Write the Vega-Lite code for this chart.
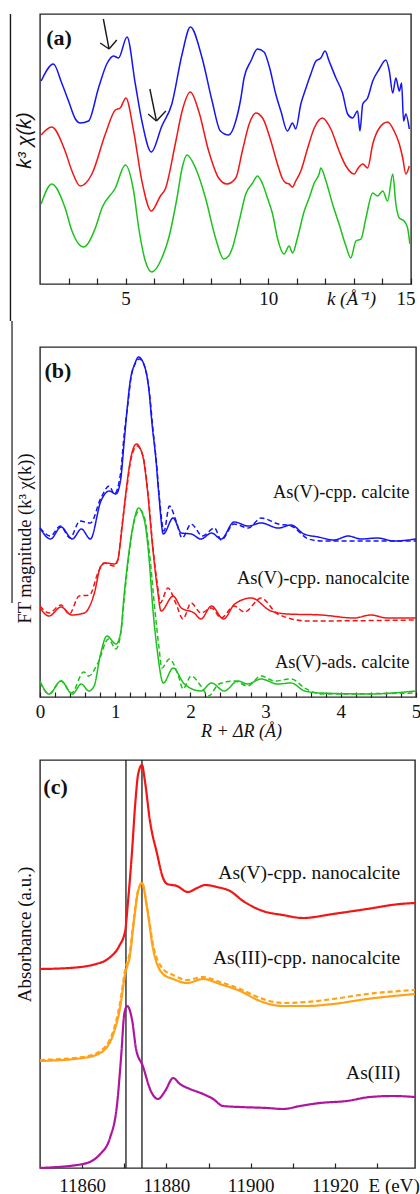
{
  "$schema": "https://vega.github.io/schema/vega-lite/v6.json",
  "background": "white",
  "padding": {"left": 9, "top": 12, "right": 0, "bottom": 0},
  "spacing": 63,
  "bounds": "flush",
  "resolve": {"scale": {"color": "independent", "strokeDash": "independent", "x": "independent", "y": "independent"}},
  "config": {
    "view": {"stroke": "#262626", "strokeWidth": 1.4},
    "axis": {"grid": false, "labelFont": "Liberation Serif", "titleFont": "Liberation Serif", "labelColor": "#111", "titleColor": "#111", "tickColor": "#222", "tickWidth": 1.2, "domain": false, "labelOverlap": false, "titleFontWeight": "normal", "labelFontSize": 19, "titleFontSize": 19}
  },
  "vconcat": [
    {
      "width": 371,
      "height": 270,
      "encoding": {
        "x": {"field": "x", "type": "quantitative", "scale": {"domain": [2, 15], "nice": false, "zero": false},
          "axis": {"values": [3,4,5,6,7,8,9,10,11,12,13,14,15], "format": "d", "labelExpr": "datum.value % 5 === 0 ? datum.label : ''", "labelOverlap": false, "labelFlushOffset": 4, "tickSize": -6, "labelPadding": 26, "labelBaseline": "alphabetic", "title": "k (Å⁻¹)", "titleFontStyle": "italic", "titleX": 311, "titleY": 20, "titleBaseline": "alphabetic", "titleAlign": "center"}},
        "y": {"field": "y", "type": "quantitative", "scale": {"domain": [0, 270], "nice": false, "zero": false},
          "axis": {"title": "k³ χ(k)", "labels": false, "ticks": false, "titleFont": "Liberation Sans", "titleFontStyle": "italic", "titleFontSize": 20, "titleX": -10, "titleY": 126, "titleBaseline": "alphabetic", "titleAngle": 270, "titleAlign": "center"}}
      },
      "layer": [
        {
          "data": {"values": [
            {"s":"b","x":2.04,"y":203},{"s":"b","x":2.47,"y":220},{"s":"b","x":2.76,"y":201},{"s":"b","x":3.0,"y":183},{"s":"b","x":3.24,"y":165},{"s":"b","x":3.41,"y":161},{"s":"b","x":3.7,"y":163},{"s":"b","x":4.05,"y":196},{"s":"b","x":4.34,"y":220},{"s":"b","x":4.58,"y":228},{"s":"b","x":4.75,"y":226},{"s":"b","x":5.05,"y":247},{"s":"b","x":5.34,"y":200},{"s":"b","x":5.57,"y":163},{"s":"b","x":5.9,"y":132},{"s":"b","x":6.27,"y":158},{"s":"b","x":6.62,"y":180},{"s":"b","x":6.98,"y":230},{"s":"b","x":7.27,"y":257},{"s":"b","x":7.68,"y":226},{"s":"b","x":8.03,"y":183},{"s":"b","x":8.32,"y":153},{"s":"b","x":8.61,"y":149},{"s":"b","x":8.86,"y":163},{"s":"b","x":9.04,"y":186},{"s":"b","x":9.15,"y":206},{"s":"b","x":9.39,"y":223},{"s":"b","x":9.62,"y":235},{"s":"b","x":9.85,"y":232},{"s":"b","x":10.03,"y":218},{"s":"b","x":10.26,"y":190},{"s":"b","x":10.44,"y":173},{"s":"b","x":10.67,"y":153},{"s":"b","x":10.85,"y":161},{"s":"b","x":10.96,"y":155},{"s":"b","x":11.14,"y":180},{"s":"b","x":11.32,"y":196},{"s":"b","x":11.49,"y":210},{"s":"b","x":11.67,"y":223},{"s":"b","x":11.84,"y":226},{"s":"b","x":11.99,"y":233},{"s":"b","x":12.13,"y":223},{"s":"b","x":12.37,"y":206},{"s":"b","x":12.6,"y":191},{"s":"b","x":12.78,"y":170},{"s":"b","x":12.95,"y":166},{"s":"b","x":13.13,"y":173},{"s":"b","x":13.21,"y":153},{"s":"b","x":13.31,"y":180},{"s":"b","x":13.48,"y":186},{"s":"b","x":13.66,"y":203},{"s":"b","x":13.89,"y":215},{"s":"b","x":14.12,"y":224},{"s":"b","x":14.24,"y":213},{"s":"b","x":14.36,"y":191},{"s":"b","x":14.47,"y":206},{"s":"b","x":14.59,"y":193},{"s":"b","x":14.67,"y":201},{"s":"b","x":14.74,"y":163},{"s":"b","x":14.82,"y":170},{"s":"b","x":14.94,"y":155},
            {"s":"r","x":2.04,"y":149},{"s":"r","x":2.41,"y":157},{"s":"r","x":2.88,"y":133},{"s":"r","x":3.12,"y":113},{"s":"r","x":3.41,"y":98},{"s":"r","x":3.82,"y":110},{"s":"r","x":4.29,"y":150},{"s":"r","x":4.64,"y":174},{"s":"r","x":4.81,"y":176},{"s":"r","x":5.01,"y":186},{"s":"r","x":5.28,"y":153},{"s":"r","x":5.57,"y":103},{"s":"r","x":5.9,"y":73},{"s":"r","x":6.22,"y":88},{"s":"r","x":6.39,"y":95},{"s":"r","x":6.74,"y":140},{"s":"r","x":6.98,"y":173},{"s":"r","x":7.27,"y":192},{"s":"r","x":7.56,"y":173},{"s":"r","x":7.91,"y":133},{"s":"r","x":8.26,"y":106},{"s":"r","x":8.55,"y":100},{"s":"r","x":8.86,"y":106},{"s":"r","x":9.09,"y":133},{"s":"r","x":9.33,"y":160},{"s":"r","x":9.56,"y":171},{"s":"r","x":9.8,"y":166},{"s":"r","x":10.09,"y":143},{"s":"r","x":10.32,"y":120},{"s":"r","x":10.5,"y":105},{"s":"r","x":10.62,"y":101},{"s":"r","x":10.73,"y":100},{"s":"r","x":10.85,"y":97},{"s":"r","x":10.96,"y":103},{"s":"r","x":11.14,"y":113},{"s":"r","x":11.38,"y":136},{"s":"r","x":11.61,"y":156},{"s":"r","x":11.9,"y":166},{"s":"r","x":12.19,"y":155},{"s":"r","x":12.48,"y":133},{"s":"r","x":12.72,"y":118},{"s":"r","x":13.01,"y":110},{"s":"r","x":13.15,"y":116},{"s":"r","x":13.31,"y":120},{"s":"r","x":13.48,"y":116},{"s":"r","x":13.66,"y":140},{"s":"r","x":13.89,"y":156},{"s":"r","x":14.18,"y":162},{"s":"r","x":14.41,"y":153},{"s":"r","x":14.59,"y":140},{"s":"r","x":14.71,"y":126},{"s":"r","x":14.82,"y":110},{"s":"r","x":14.94,"y":118},
            {"s":"g","x":2.04,"y":80},{"s":"g","x":2.41,"y":100},{"s":"g","x":2.88,"y":76},{"s":"g","x":3.12,"y":53},{"s":"g","x":3.53,"y":37},{"s":"g","x":3.94,"y":56},{"s":"g","x":4.17,"y":76},{"s":"g","x":4.64,"y":96},{"s":"g","x":4.99,"y":119},{"s":"g","x":5.28,"y":93},{"s":"g","x":5.46,"y":56},{"s":"g","x":5.69,"y":23},{"s":"g","x":5.92,"y":12},{"s":"g","x":6.27,"y":26},{"s":"g","x":6.51,"y":46},{"s":"g","x":6.8,"y":86},{"s":"g","x":6.98,"y":116},{"s":"g","x":7.15,"y":129},{"s":"g","x":7.45,"y":116},{"s":"g","x":7.8,"y":86},{"s":"g","x":8.15,"y":46},{"s":"g","x":8.44,"y":25},{"s":"g","x":8.61,"y":28},{"s":"g","x":8.74,"y":36},{"s":"g","x":8.98,"y":63},{"s":"g","x":9.21,"y":90},{"s":"g","x":9.45,"y":101},{"s":"g","x":9.62,"y":108},{"s":"g","x":9.8,"y":100},{"s":"g","x":9.97,"y":86},{"s":"g","x":10.15,"y":70},{"s":"g","x":10.32,"y":46},{"s":"g","x":10.55,"y":30},{"s":"g","x":10.73,"y":38},{"s":"g","x":10.85,"y":31},{"s":"g","x":11.02,"y":46},{"s":"g","x":11.26,"y":73},{"s":"g","x":11.43,"y":86},{"s":"g","x":11.61,"y":101},{"s":"g","x":11.78,"y":110},{"s":"g","x":11.84,"y":116},{"s":"g","x":12.02,"y":103},{"s":"g","x":12.25,"y":80},{"s":"g","x":12.48,"y":60},{"s":"g","x":12.72,"y":38},{"s":"g","x":12.89,"y":26},{"s":"g","x":13.07,"y":43},{"s":"g","x":13.25,"y":45},{"s":"g","x":13.42,"y":66},{"s":"g","x":13.66,"y":91},{"s":"g","x":13.83,"y":88},{"s":"g","x":14.01,"y":93},{"s":"g","x":14.18,"y":83},{"s":"g","x":14.36,"y":110},{"s":"g","x":14.47,"y":80},{"s":"g","x":14.59,"y":66},{"s":"g","x":14.76,"y":63},{"s":"g","x":14.88,"y":56},{"s":"g","x":14.96,"y":40}
          ]},
          "mark": {"type": "line", "interpolate": "monotone", "strokeWidth": 1.5},
          "encoding": {"color": {"field": "s", "type": "nominal", "scale": {"domain": ["b","r","g"], "range": ["#1414f5","#f51414","#1cc21c"]}, "legend": null}}
        },
        {
          "data": {"values": [
            {"x":4.22,"y":265,"x2":4.42,"y2":235},{"x":4.11,"y":241,"x2":4.42,"y2":235},{"x":4.69,"y":244,"x2":4.42,"y2":235},
            {"x":5.85,"y":195,"x2":6.08,"y2":163},{"x":5.79,"y":170,"x2":6.08,"y2":163},{"x":6.41,"y":173,"x2":6.08,"y2":163},
            {"x":0.965,"y":270,"x2":0.965,"y2":-37}
          ]},
          "mark": {"type": "rule", "color": "#1a1a1a", "strokeWidth": 1.4},
          "encoding": {"x2": {"field": "x2"}, "y2": {"field": "y2"}}
        },
        {
          "data": {"values": [{"x": 2.22, "y": 239, "t": "(a)"}]},
          "mark": {"type": "text", "align": "left", "baseline": "alphabetic", "font": "Liberation Serif", "fontSize": 22, "fontWeight": "bold", "color": "#111"},
          "encoding": {"text": {"field": "t"}}
        }
      ]
    },
    {
      "width": 376,
      "height": 350,
      "encoding": {
        "x": {"field": "x", "type": "quantitative", "scale": {"domain": [0, 5], "nice": false, "zero": false},
          "axis": {"values": [0,0.2,0.4,0.6,0.8,1,1.2,1.4,1.6,1.8,2,2.2,2.4,2.6,2.8,3,3.2,3.4,3.6,3.8,4,4.2,4.4,4.6,4.8,5], "labelExpr": "datum.value === 0 || datum.value === 1 || datum.value === 2 || datum.value === 3 || datum.value === 4 || datum.value === 5 ? '' + datum.value : ''", "labelOverlap": false, "labelFlush": false, "labelBound": false, "tickSize": -5, "labelPadding": 25, "labelBaseline": "alphabetic", "title": "R + ΔR (Å)", "titleFontStyle": "italic", "titleFontSize": 18, "titleX": 201, "titleY": 39, "titleBaseline": "alphabetic", "titleAlign": "center"}},
        "y": {"field": "y", "type": "quantitative", "scale": {"domain": [-1, 349], "nice": false, "zero": false},
          "axis": {"title": "FT magnitude (k³ χ(k))", "labels": false, "ticks": false, "titleFontSize": 18.5, "titleX": -9.5, "titleY": 191, "titleBaseline": "alphabetic", "titleAngle": 270, "titleAlign": "center"}}
      },
      "layer": [
        {
          "data": {"values": [
            {"s":"b","d":"s","x":0,"y":168},{"s":"b","d":"s","x":0.14,"y":157},{"s":"b","d":"s","x":0.28,"y":169},{"s":"b","d":"s","x":0.43,"y":157},{"s":"b","d":"s","x":0.55,"y":167},{"s":"b","d":"s","x":0.67,"y":157},{"s":"b","d":"s","x":0.81,"y":195},{"s":"b","d":"s","x":0.92,"y":205},{"s":"b","d":"s","x":1.01,"y":202},{"s":"b","d":"s","x":1.07,"y":215},{"s":"b","d":"s","x":1.12,"y":255},{"s":"b","d":"s","x":1.16,"y":288},{"s":"b","d":"s","x":1.2,"y":315},{"s":"b","d":"s","x":1.26,"y":332},{"s":"b","d":"s","x":1.31,"y":339},{"s":"b","d":"s","x":1.38,"y":332},{"s":"b","d":"s","x":1.45,"y":305},{"s":"b","d":"s","x":1.49,"y":272},{"s":"b","d":"s","x":1.54,"y":238},{"s":"b","d":"s","x":1.58,"y":202},{"s":"b","d":"s","x":1.64,"y":162},{"s":"b","d":"s","x":1.77,"y":178},{"s":"b","d":"s","x":1.88,"y":163},{"s":"b","d":"s","x":2.01,"y":162},{"s":"b","d":"s","x":2.14,"y":157},{"s":"b","d":"s","x":2.28,"y":163},{"s":"b","d":"s","x":2.41,"y":157},{"s":"b","d":"s","x":2.58,"y":174},{"s":"b","d":"s","x":2.77,"y":170},{"s":"b","d":"s","x":2.94,"y":173},{"s":"b","d":"s","x":3.17,"y":168},{"s":"b","d":"s","x":3.34,"y":171},{"s":"b","d":"s","x":3.51,"y":162},{"s":"b","d":"s","x":3.7,"y":159},{"s":"b","d":"s","x":3.91,"y":156},{"s":"b","d":"s","x":4.1,"y":160},{"s":"b","d":"s","x":4.27,"y":157},{"s":"b","d":"s","x":4.49,"y":158},{"s":"b","d":"s","x":4.71,"y":155},{"s":"b","d":"s","x":5,"y":157},
            {"s":"b","d":"f","x":0,"y":168},{"s":"b","d":"f","x":0.14,"y":160},{"s":"b","d":"f","x":0.27,"y":170},{"s":"b","d":"f","x":0.4,"y":158},{"s":"b","d":"f","x":0.53,"y":175},{"s":"b","d":"f","x":0.67,"y":173},{"s":"b","d":"f","x":0.81,"y":198},{"s":"b","d":"f","x":0.92,"y":210},{"s":"b","d":"f","x":0.99,"y":202},{"s":"b","d":"f","x":1.07,"y":222},{"s":"b","d":"f","x":1.12,"y":262},{"s":"b","d":"f","x":1.17,"y":293},{"s":"b","d":"f","x":1.21,"y":318},{"s":"b","d":"f","x":1.27,"y":333},{"s":"b","d":"f","x":1.32,"y":337},{"s":"b","d":"f","x":1.39,"y":330},{"s":"b","d":"f","x":1.46,"y":300},{"s":"b","d":"f","x":1.5,"y":268},{"s":"b","d":"f","x":1.55,"y":232},{"s":"b","d":"f","x":1.59,"y":196},{"s":"b","d":"f","x":1.65,"y":165},{"s":"b","d":"f","x":1.72,"y":190},{"s":"b","d":"f","x":1.81,"y":175},{"s":"b","d":"f","x":1.89,"y":158},{"s":"b","d":"f","x":2.01,"y":172},{"s":"b","d":"f","x":2.16,"y":160},{"s":"b","d":"f","x":2.32,"y":168},{"s":"b","d":"f","x":2.41,"y":156},{"s":"b","d":"f","x":2.58,"y":172},{"s":"b","d":"f","x":2.77,"y":168},{"s":"b","d":"f","x":2.94,"y":178},{"s":"b","d":"f","x":3.17,"y":172},{"s":"b","d":"f","x":3.34,"y":170},{"s":"b","d":"f","x":3.57,"y":157},{"s":"b","d":"f","x":3.74,"y":155},{"s":"b","d":"f","x":5,"y":155},
            {"s":"r","d":"s","x":0,"y":88},{"s":"r","d":"s","x":0.12,"y":80},{"s":"r","d":"s","x":0.28,"y":89},{"s":"r","d":"s","x":0.42,"y":81},{"s":"r","d":"s","x":0.59,"y":83},{"s":"r","d":"s","x":0.72,"y":102},{"s":"r","d":"s","x":0.81,"y":130},{"s":"r","d":"s","x":0.88,"y":133},{"s":"r","d":"s","x":0.99,"y":132},{"s":"r","d":"s","x":1.03,"y":135},{"s":"r","d":"s","x":1.09,"y":168},{"s":"r","d":"s","x":1.14,"y":202},{"s":"r","d":"s","x":1.2,"y":235},{"s":"r","d":"s","x":1.28,"y":252},{"s":"r","d":"s","x":1.36,"y":242},{"s":"r","d":"s","x":1.43,"y":205},{"s":"r","d":"s","x":1.49,"y":155},{"s":"r","d":"s","x":1.56,"y":108},{"s":"r","d":"s","x":1.61,"y":85},{"s":"r","d":"s","x":1.77,"y":100},{"s":"r","d":"s","x":1.88,"y":88},{"s":"r","d":"s","x":2.05,"y":83},{"s":"r","d":"s","x":2.14,"y":77},{"s":"r","d":"s","x":2.28,"y":90},{"s":"r","d":"s","x":2.44,"y":77},{"s":"r","d":"s","x":2.59,"y":92},{"s":"r","d":"s","x":2.81,"y":98},{"s":"r","d":"s","x":3.07,"y":85},{"s":"r","d":"s","x":3.3,"y":82},{"s":"r","d":"s","x":3.74,"y":81},{"s":"r","d":"s","x":4.18,"y":78},{"s":"r","d":"s","x":4.4,"y":81},{"s":"r","d":"s","x":4.62,"y":78},{"s":"r","d":"s","x":5,"y":78},
            {"s":"r","d":"f","x":0,"y":90},{"s":"r","d":"f","x":0.12,"y":83},{"s":"r","d":"f","x":0.28,"y":91},{"s":"r","d":"f","x":0.39,"y":82},{"s":"r","d":"f","x":0.52,"y":100},{"s":"r","d":"f","x":0.66,"y":101},{"s":"r","d":"f","x":0.77,"y":123},{"s":"r","d":"f","x":0.85,"y":133},{"s":"r","d":"f","x":0.99,"y":130},{"s":"r","d":"f","x":1.04,"y":138},{"s":"r","d":"f","x":1.09,"y":170},{"s":"r","d":"f","x":1.15,"y":205},{"s":"r","d":"f","x":1.21,"y":237},{"s":"r","d":"f","x":1.29,"y":250},{"s":"r","d":"f","x":1.37,"y":240},{"s":"r","d":"f","x":1.44,"y":200},{"s":"r","d":"f","x":1.5,"y":150},{"s":"r","d":"f","x":1.56,"y":112},{"s":"r","d":"f","x":1.6,"y":93},{"s":"r","d":"f","x":1.7,"y":108},{"s":"r","d":"f","x":1.81,"y":92},{"s":"r","d":"f","x":1.9,"y":77},{"s":"r","d":"f","x":2.01,"y":93},{"s":"r","d":"f","x":2.14,"y":83},{"s":"r","d":"f","x":2.28,"y":88},{"s":"r","d":"f","x":2.41,"y":78},{"s":"r","d":"f","x":2.58,"y":90},{"s":"r","d":"f","x":2.72,"y":84},{"s":"r","d":"f","x":2.94,"y":98},{"s":"r","d":"f","x":3.16,"y":82},{"s":"r","d":"f","x":3.56,"y":75},{"s":"r","d":"f","x":5,"y":76},
            {"s":"g","d":"s","x":0,"y":15},{"s":"g","d":"s","x":0.12,"y":2},{"s":"g","d":"s","x":0.28,"y":15},{"s":"g","d":"s","x":0.43,"y":2},{"s":"g","d":"s","x":0.55,"y":12},{"s":"g","d":"s","x":0.65,"y":5},{"s":"g","d":"s","x":0.72,"y":10},{"s":"g","d":"s","x":0.8,"y":40},{"s":"g","d":"s","x":0.89,"y":60},{"s":"g","d":"s","x":1.01,"y":52},{"s":"g","d":"s","x":1.07,"y":62},{"s":"g","d":"s","x":1.12,"y":102},{"s":"g","d":"s","x":1.18,"y":142},{"s":"g","d":"s","x":1.25,"y":175},{"s":"g","d":"s","x":1.31,"y":188},{"s":"g","d":"s","x":1.39,"y":175},{"s":"g","d":"s","x":1.45,"y":138},{"s":"g","d":"s","x":1.5,"y":88},{"s":"g","d":"s","x":1.56,"y":45},{"s":"g","d":"s","x":1.64,"y":13},{"s":"g","d":"s","x":1.77,"y":28},{"s":"g","d":"s","x":1.92,"y":12},{"s":"g","d":"s","x":2.14,"y":5},{"s":"g","d":"s","x":2.28,"y":13},{"s":"g","d":"s","x":2.45,"y":5},{"s":"g","d":"s","x":2.63,"y":15},{"s":"g","d":"s","x":2.76,"y":12},{"s":"g","d":"s","x":2.94,"y":17},{"s":"g","d":"s","x":3.16,"y":12},{"s":"g","d":"s","x":3.34,"y":13},{"s":"g","d":"s","x":3.52,"y":5},{"s":"g","d":"s","x":3.74,"y":3},{"s":"g","d":"s","x":4.36,"y":2},{"s":"g","d":"s","x":5,"y":5},
            {"s":"g","d":"f","x":0,"y":14},{"s":"g","d":"f","x":0.12,"y":2},{"s":"g","d":"f","x":0.28,"y":15},{"s":"g","d":"f","x":0.42,"y":3},{"s":"g","d":"f","x":0.58,"y":24},{"s":"g","d":"f","x":0.65,"y":20},{"s":"g","d":"f","x":0.77,"y":33},{"s":"g","d":"f","x":0.91,"y":57},{"s":"g","d":"f","x":1.01,"y":47},{"s":"g","d":"f","x":1.08,"y":66},{"s":"g","d":"f","x":1.13,"y":105},{"s":"g","d":"f","x":1.19,"y":145},{"s":"g","d":"f","x":1.26,"y":177},{"s":"g","d":"f","x":1.33,"y":186},{"s":"g","d":"f","x":1.39,"y":178},{"s":"g","d":"f","x":1.46,"y":140},{"s":"g","d":"f","x":1.52,"y":92},{"s":"g","d":"f","x":1.58,"y":50},{"s":"g","d":"f","x":1.62,"y":28},{"s":"g","d":"f","x":1.72,"y":37},{"s":"g","d":"f","x":1.85,"y":18},{"s":"g","d":"f","x":1.9,"y":7},{"s":"g","d":"f","x":2.01,"y":20},{"s":"g","d":"f","x":2.14,"y":10},{"s":"g","d":"f","x":2.24,"y":0},{"s":"g","d":"f","x":2.38,"y":12},{"s":"g","d":"f","x":2.59,"y":15},{"s":"g","d":"f","x":2.76,"y":10},{"s":"g","d":"f","x":2.94,"y":20},{"s":"g","d":"f","x":3.12,"y":15},{"s":"g","d":"f","x":3.34,"y":17},{"s":"g","d":"f","x":3.52,"y":8},{"s":"g","d":"f","x":3.74,"y":2},{"s":"g","d":"f","x":5,"y":3}
          ]},
          "mark": {"type": "line", "interpolate": "monotone", "strokeWidth": 1.5},
          "encoding": {
            "color": {"field": "s", "type": "nominal", "scale": {"domain": ["b","r","g"], "range": ["#1414f5","#f51414","#1cc21c"]}, "legend": null},
            "strokeDash": {"field": "d", "type": "nominal", "scale": {"domain": ["s","f"], "range": [[1,0],[5,3]]}, "legend": null}
          }
        },
        {
          "data": {"values": [{"x": -0.372, "y": 375, "x2": -0.372, "y2": 93}]},
          "mark": {"type": "rule", "color": "#1a1a1a", "strokeWidth": 1.2},
          "encoding": {"x2": {"field": "x2"}, "y2": {"field": "y2"}}
        },
        {
          "data": {"values": [
            {"x": 4.914, "y": 197.7, "t": "As(V)-cpp. calcite"},
            {"x": 4.914, "y": 111.7, "t": "As(V)-cpp. nanocalcite"},
            {"x": 4.914, "y": 28.3, "t": "As(V)-ads. calcite"}
          ]},
          "mark": {"type": "text", "align": "right", "baseline": "alphabetic", "font": "Liberation Serif", "fontSize": 18.5, "color": "#111"},
          "encoding": {"text": {"field": "t"}}
        },
        {
          "data": {"values": [{"x": 0.06, "y": 318, "t": "(b)"}]},
          "mark": {"type": "text", "align": "left", "baseline": "alphabetic", "font": "Liberation Serif", "fontSize": 22, "fontWeight": "bold", "color": "#111"},
          "encoding": {"text": {"field": "t"}}
        }
      ]
    },
    {
      "width": 375,
      "height": 408,
      "encoding": {
        "x": {"field": "x", "type": "quantitative", "scale": {"domain": [11850, 11939], "nice": false, "zero": false},
          "axis": {"values": [11860,11870,11880,11890,11900,11910,11920,11930], "format": "d", "labelExpr": "datum.value % 20 === 0 ? datum.label : ''", "labelOverlap": false, "tickSize": -5, "labelPadding": 28, "labelBaseline": "alphabetic", "title": "E (eV)", "titleX": 353.7, "titleY": 23, "titleBaseline": "alphabetic", "titleAlign": "center"}},
        "y": {"field": "y", "type": "quantitative", "scale": {"domain": [0, 408], "nice": false, "zero": false},
          "axis": {"title": "Absorbance (a.u.)", "labels": false, "ticks": false, "titleX": -10, "titleY": 174, "titleBaseline": "alphabetic", "titleAngle": 270, "titleAlign": "center"}}
      },
      "layer": [
        {
          "data": {"values": [{"x": 11870.4, "y": 0, "y2": 408}, {"x": 11874.2, "y": 0, "y2": 408}]},
          "mark": {"type": "rule", "color": "#1a1a1a", "strokeWidth": 1.3},
          "encoding": {"y2": {"field": "y2"}}
        },
        {
          "data": {"values": [
            {"s":"r","d":"s","x":11850,"y":199},{"s":"r","d":"s","x":11856.9,"y":200},{"s":"r","d":"s","x":11863.3,"y":204},{"s":"r","d":"s","x":11866.4,"y":210},{"s":"r","d":"s","x":11868.8,"y":222},{"s":"r","d":"s","x":11870.2,"y":237},{"s":"r","d":"s","x":11870.9,"y":267},{"s":"r","d":"s","x":11871.8,"y":314},{"s":"r","d":"s","x":11872.6,"y":364},{"s":"r","d":"s","x":11873.3,"y":394},{"s":"r","d":"s","x":11874.2,"y":403},{"s":"r","d":"s","x":11874.9,"y":387},{"s":"r","d":"s","x":11876.1,"y":347},{"s":"r","d":"s","x":11877.8,"y":314},{"s":"r","d":"s","x":11879.2,"y":290},{"s":"r","d":"s","x":11880.2,"y":284},{"s":"r","d":"s","x":11882.5,"y":282},{"s":"r","d":"s","x":11885.1,"y":276},{"s":"r","d":"s","x":11887.3,"y":280},{"s":"r","d":"s","x":11889.2,"y":283},{"s":"r","d":"s","x":11892,"y":281},{"s":"r","d":"s","x":11895.1,"y":277},{"s":"r","d":"s","x":11898.2,"y":267},{"s":"r","d":"s","x":11902.9,"y":257},{"s":"r","d":"s","x":11907.6,"y":253},{"s":"r","d":"s","x":11912.4,"y":250},{"s":"r","d":"s","x":11919.5,"y":254},{"s":"r","d":"s","x":11927.6,"y":259},{"s":"r","d":"s","x":11935.4,"y":264},{"s":"r","d":"s","x":11939,"y":265},
            {"s":"o","d":"s","x":11850,"y":107},{"s":"o","d":"s","x":11860.2,"y":110},{"s":"o","d":"s","x":11864.3,"y":115},{"s":"o","d":"s","x":11867.4,"y":134},{"s":"o","d":"s","x":11869,"y":160},{"s":"o","d":"s","x":11870.2,"y":194},{"s":"o","d":"s","x":11871.4,"y":214},{"s":"o","d":"s","x":11872.1,"y":240},{"s":"o","d":"s","x":11873.3,"y":277},{"s":"o","d":"s","x":11874.2,"y":285},{"s":"o","d":"s","x":11875.4,"y":260},{"s":"o","d":"s","x":11876.8,"y":220},{"s":"o","d":"s","x":11879.2,"y":194},{"s":"o","d":"s","x":11881.6,"y":189},{"s":"o","d":"s","x":11884.9,"y":185},{"s":"o","d":"s","x":11888.7,"y":189},{"s":"o","d":"s","x":11892.7,"y":184},{"s":"o","d":"s","x":11897.5,"y":177},{"s":"o","d":"s","x":11902.2,"y":167},{"s":"o","d":"s","x":11907.7,"y":162},{"s":"o","d":"s","x":11913.3,"y":162},{"s":"o","d":"s","x":11919.5,"y":164},{"s":"o","d":"s","x":11927.6,"y":169},{"s":"o","d":"s","x":11939,"y":174},
            {"s":"o","d":"f","x":11850,"y":108},{"s":"o","d":"f","x":11860.2,"y":111},{"s":"o","d":"f","x":11864.3,"y":117},{"s":"o","d":"f","x":11867.4,"y":137},{"s":"o","d":"f","x":11869,"y":165},{"s":"o","d":"f","x":11870.2,"y":198},{"s":"o","d":"f","x":11871.4,"y":218},{"s":"o","d":"f","x":11872.1,"y":243},{"s":"o","d":"f","x":11873.3,"y":278},{"s":"o","d":"f","x":11874.2,"y":285},{"s":"o","d":"f","x":11875.4,"y":262},{"s":"o","d":"f","x":11876.8,"y":224},{"s":"o","d":"f","x":11879.2,"y":199},{"s":"o","d":"f","x":11881.6,"y":193},{"s":"o","d":"f","x":11884.9,"y":188},{"s":"o","d":"f","x":11888.7,"y":191},{"s":"o","d":"f","x":11892.7,"y":186},{"s":"o","d":"f","x":11897.5,"y":179},{"s":"o","d":"f","x":11902.2,"y":170},{"s":"o","d":"f","x":11907.7,"y":165},{"s":"o","d":"f","x":11913.3,"y":166},{"s":"o","d":"f","x":11919.5,"y":169},{"s":"o","d":"f","x":11927.6,"y":174},{"s":"o","d":"f","x":11939,"y":178},
            {"s":"p","d":"s","x":11850,"y":0},{"s":"p","d":"s","x":11860.2,"y":4},{"s":"p","d":"s","x":11864.3,"y":14},{"s":"p","d":"s","x":11866.6,"y":30},{"s":"p","d":"s","x":11868.3,"y":64},{"s":"p","d":"s","x":11869.3,"y":114},{"s":"p","d":"s","x":11870,"y":154},{"s":"p","d":"s","x":11870.7,"y":162},{"s":"p","d":"s","x":11871.9,"y":147},{"s":"p","d":"s","x":11872.8,"y":119},{"s":"p","d":"s","x":11874.4,"y":102},{"s":"p","d":"s","x":11876.3,"y":77},{"s":"p","d":"s","x":11878,"y":69},{"s":"p","d":"s","x":11879.7,"y":77},{"s":"p","d":"s","x":11881.6,"y":90},{"s":"p","d":"s","x":11883.2,"y":84},{"s":"p","d":"s","x":11885.6,"y":79},{"s":"p","d":"s","x":11888.7,"y":74},{"s":"p","d":"s","x":11891.1,"y":69},{"s":"p","d":"s","x":11893.4,"y":62},{"s":"p","d":"s","x":11897.5,"y":61},{"s":"p","d":"s","x":11903.9,"y":60},{"s":"p","d":"s","x":11907.7,"y":59},{"s":"p","d":"s","x":11911.7,"y":62},{"s":"p","d":"s","x":11916.4,"y":65},{"s":"p","d":"s","x":11922.8,"y":67},{"s":"p","d":"s","x":11928.3,"y":71},{"s":"p","d":"s","x":11933.7,"y":72},{"s":"p","d":"s","x":11939,"y":71}
          ]},
          "mark": {"type": "line", "interpolate": "monotone", "strokeWidth": 2.2},
          "encoding": {
            "color": {"field": "s", "type": "nominal", "scale": {"domain": ["r","o","p"], "range": ["#f51414","#ffa21a","#b0159f"]}, "legend": null},
            "strokeDash": {"field": "d", "type": "nominal", "scale": {"domain": ["s","f"], "range": [[1,0],[5,3]]}, "legend": null}
          }
        },
        {
          "data": {"values": [
            {"x": 11935.5, "y": 289.3, "t": "As(V)-cpp. nanocalcite"},
            {"x": 11935.5, "y": 203.7, "t": "As(III)-cpp. nanocalcite"},
            {"x": 11935.5, "y": 88.7, "t": "As(III)"}
          ]},
          "mark": {"type": "text", "align": "right", "baseline": "alphabetic", "font": "Liberation Serif", "fontSize": 19.5, "color": "#111"},
          "encoding": {"text": {"field": "t"}}
        },
        {
          "data": {"values": [{"x": 11850.8, "y": 374.5, "t": "(c)"}]},
          "mark": {"type": "text", "align": "left", "baseline": "alphabetic", "font": "Liberation Serif", "fontSize": 22, "fontWeight": "bold", "color": "#111"},
          "encoding": {"text": {"field": "t"}}
        }
      ]
    }
  ]
}
